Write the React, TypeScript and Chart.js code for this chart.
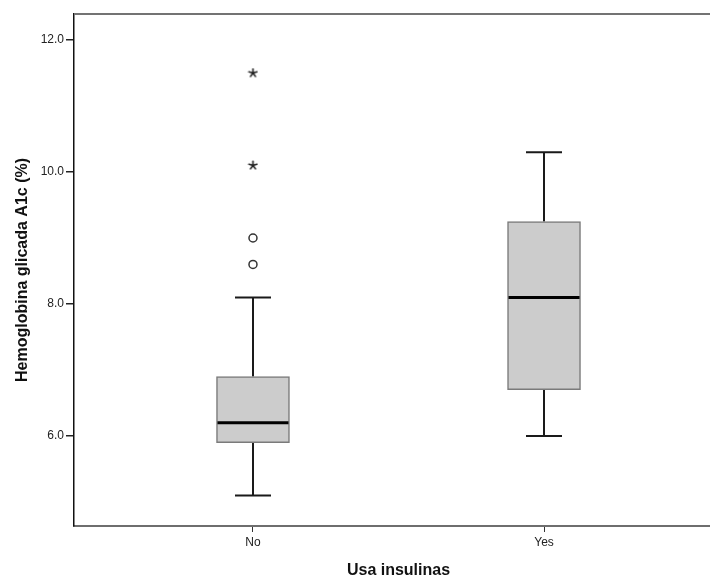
import React, { useEffect, useRef } from 'react';
import { Chart, registerables } from 'chart.js';

Chart.register(...registerables);

const categories = ['No', 'Yes'];
const whiskerLow = [5.1, 6.0];
const q1 = [5.9, 6.7];
const median = [6.2, 8.1];
const q3 = [6.9, 9.25];
const whiskerHigh = [8.1, 10.3];
const circleOutliers = [[9.0, 8.6], []];
const starOutliers = [[11.5, 10.1], []];
const yTicks = [6, 8, 10, 12];

const FONT = "'Liberation Sans', Arial, sans-serif";

function makeAsterisk(): HTMLCanvasElement {
  const c = document.createElement('canvas');
  c.width = 11;
  c.height = 11;
  const g = c.getContext('2d')!;
  g.strokeStyle = '#222';
  g.lineWidth = 1.6;
  g.lineCap = 'round';
  const cx = 5.5;
  const cy = 5.5;
  const r = 4.2;
  g.beginPath();
  [90, 18, 162, 234, 306].forEach((deg) => {
    const a = (deg * Math.PI) / 180;
    g.moveTo(cx, cy);
    g.lineTo(cx + r * Math.cos(a), cy - r * Math.sin(a));
  });
  g.stroke();
  return c;
}

const boxPlugin = {
  id: 'boxParts',
  beforeDatasetsDraw(chart: any) {
    const { ctx, scales } = chart;
    const x = scales.x;
    const y = scales.y;
    ctx.save();
    ctx.strokeStyle = '#1a1a1a';
    ctx.lineWidth = 2;
    ctx.lineCap = 'butt';
    categories.forEach((_c, i) => {
      const px = Math.round(x.getPixelForValue(i));
      const capHalf = 18;
      const lo = y.getPixelForValue(whiskerLow[i]);
      const hi = y.getPixelForValue(whiskerHigh[i]);
      const b1 = y.getPixelForValue(q1[i]);
      const b3 = y.getPixelForValue(q3[i]);
      ctx.beginPath();
      ctx.moveTo(px, lo);
      ctx.lineTo(px, b1);
      ctx.moveTo(px, hi);
      ctx.lineTo(px, b3);
      ctx.moveTo(px - capHalf, lo);
      ctx.lineTo(px + capHalf, lo);
      ctx.moveTo(px - capHalf, hi);
      ctx.lineTo(px + capHalf, hi);
      ctx.stroke();
    });
    ctx.restore();
  },
  afterDatasetsDraw(chart: any) {
    const { ctx, scales } = chart;
    const y = scales.y;
    const meta = chart.getDatasetMeta(0);
    ctx.save();
    ctx.strokeStyle = '#000';
    ctx.lineWidth = 3;
    categories.forEach((_c, i) => {
      const bar = meta.data[i];
      if (!bar) return;
      const my = y.getPixelForValue(median[i]);
      ctx.beginPath();
      ctx.moveTo(bar.x - bar.width / 2 + 1, my);
      ctx.lineTo(bar.x + bar.width / 2 - 1, my);
      ctx.stroke();
    });
    ctx.restore();
  },
  afterDraw(chart: any) {
    const { ctx, chartArea } = chart;
    ctx.save();
    ctx.strokeStyle = '#737373';
    ctx.lineWidth = 2;
    ctx.beginPath();
    ctx.moveTo(chartArea.left, chartArea.top);
    ctx.lineTo(chartArea.right, chartArea.top);
    ctx.stroke();
    ctx.restore();
  },
};

export default function App() {
  const ref = useRef<HTMLCanvasElement | null>(null);

  useEffect(() => {
    if (!ref.current) return;
    const circles: any[] = [];
    const stars: any[] = [];
    categories.forEach((_c, i) => {
      circleOutliers[i].forEach((v) => circles.push({ x: i, y: v }));
      starOutliers[i].forEach((v) => stars.push({ x: i, y: v }));
    });
    const chart = new Chart(ref.current, {
      type: 'bar',
      data: {
        datasets: [
          {
            type: 'bar',
            data: categories.map((_c, i) => ({ x: i, y: [q1[i], q3[i]] })) as any,
            backgroundColor: '#cccccc',
            borderColor: '#7a7a7a',
            borderWidth: 1.5,
            borderSkipped: false,
            barThickness: 73,
          } as any,
          {
            type: 'scatter',
            data: circles,
            pointStyle: 'circle',
            radius: 4,
            backgroundColor: '#ffffff',
            borderColor: '#333333',
            borderWidth: 1.5,
          } as any,
          {
            type: 'scatter',
            data: stars,
            pointStyle: makeAsterisk(),
            radius: 5,
          } as any,
        ],
      },
      options: {
        animation: false,
        responsive: false,
        devicePixelRatio: 1,
        layout: { padding: { left: 0, top: 14, right: 17, bottom: 0 } },
        plugins: { legend: { display: false }, tooltip: { enabled: false } },
        scales: {
          x: {
            type: 'linear',
            offset: false,
            min: -0.615,
            max: 1.615,
            afterBuildTicks: (s: any) => {
              s.ticks = categories.map((_c, i) => ({ value: i }));
            },
            afterFit: (s: any) => {
              s.height = 53;
            },
            ticks: {
              callback: (v: any) => categories[v] ?? '',
              color: '#222',
              font: { family: FONT, size: 12 },
              padding: 3,
              maxRotation: 0,
            },
            grid: {
              display: true,
              offset: false,
              drawOnChartArea: false,
              drawTicks: true,
              tickLength: 6,
              color: '#333',
              lineWidth: 1,
            },
            border: { display: true, color: '#6e6e6e', width: 2 },
            title: {
              display: true,
              text: 'Usa insulinas',
              color: '#111',
              font: { family: FONT, size: 16, weight: 'bold', lineHeight: 1 },
              padding: { top: 0, bottom: 0 },
            },
          },
          y: {
            type: 'linear',
            min: 4.636,
            max: 12.394,
            afterBuildTicks: (s: any) => {
              s.ticks = yTicks.map((v) => ({ value: v }));
            },
            afterFit: (s: any) => {
              s.width = 74;
            },
            ticks: {
              callback: (v: any) => Number(v).toFixed(1),
              color: '#222',
              font: { family: FONT, size: 12 },
              padding: 2,
            },
            grid: {
              display: true,
              drawOnChartArea: false,
              drawTicks: true,
              tickLength: 8,
              color: '#222',
              lineWidth: 1.5,
            },
            border: { display: true, color: '#111', width: 1.5 },
            title: {
              display: true,
              text: 'Hemoglobina glicada A1c (%)',
              color: '#111',
              font: { family: FONT, size: 16, weight: 'bold', lineHeight: 1 },
              padding: { top: 15, bottom: 0 },
            },
          },
        },
      },
      plugins: [boxPlugin],
    });
    return () => chart.destroy();
  }, []);

  return (
    <div
      style={{
        position: 'fixed',
        left: 0,
        top: 0,
        width: 710,
        height: 579,
        overflow: 'hidden',
        background: '#ffffff',
      }}
    >
      <canvas
        ref={ref}
        width={740}
        height={579}
        style={{ display: 'block', width: 740, height: 579 }}
      />
    </div>
  );
}
